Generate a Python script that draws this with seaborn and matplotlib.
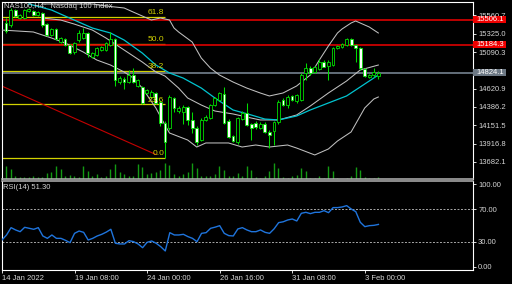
import matplotlib
matplotlib.use("Agg")
import matplotlib.pyplot as plt
import matplotlib.transforms as mtrans
from matplotlib.patches import Rectangle
import seaborn as sns

plt.rcParams['font.family'] = ['Liberation Sans', 'DejaVu Sans']

# ---------------- data ----------------
symbol_title = "NAS100,H4:  Nasdaq 100 Index"
time_labels = ["14 Jan 2022", "19 Jan 08:00", "24 Jan 00:00", "26 Jan 16:00", "31 Jan 08:00", "3 Feb 00:00"]
time_label_bars = [0, 16, 32, 48, 64, 80]

bar_idx = list(range(1, 84))
opens = [15463.2, 15437.5, 15630.0, 15527.4, 15527.4, 15610.8, 15617.2, 15565.8, 15591.5, 15450.4,
         15309.2, 15386.2, 15219.4, 15257.9, 15180.9, 15091.1, 15245.1, 15270.8, 15334.9, 15027.0,
         15052.6, 15116.8, 15116.8, 15180.9, 15257.9, 14706.2, 14744.7, 14706.2, 14796.0, 14654.9,
         14642.1, 14565.1, 14513.8, 14565.1, 14449.6, 14180.2, 14116.1, 14501.0, 14334.2, 14321.3,
         14385.5, 14218.7, 14116.1, 13962.1, 14218.7, 14244.4, 14411.1, 14475.3, 14552.3, 14205.9,
         14013.4, 13936.4, 14231.5, 14308.5, 14167.4, 14180.2, 14116.1, 14167.4, 14064.7, 14077.6,
         14193.0, 14475.3, 14411.1, 14526.6, 14462.5, 14475.3, 14821.7, 14885.9, 14838.4, 14869.2,
         14966.7, 14911.5, 14924.3, 15142.5, 15155.3, 15180.9, 15254.1, 15180.9, 15138.6, 14869.2,
         14774.2, 14796.0, 14783.2]
highs = [15527.4, 15655.7, 15642.8, 15578.7, 15642.8, 15655.7, 15630.0, 15617.2, 15604.3, 15463.2,
         15399.1, 15399.1, 15283.6, 15270.8, 15193.8, 15219.4, 15373.4, 15399.1, 15347.7, 15091.1,
         15155.3, 15168.1, 15219.4, 15347.7, 15270.8, 14783.2, 14770.4, 14860.2, 14885.9, 14744.7,
         14654.9, 14616.4, 14603.6, 14577.9, 14475.3, 14205.9, 14539.4, 14513.8, 14398.3, 14411.1,
         14398.3, 14321.3, 14141.7, 14244.4, 14282.8, 14424.0, 14513.8, 14577.9, 14645.9, 14231.5,
         14026.2, 14257.2, 14334.2, 14436.8, 14180.2, 14205.9, 14193.0, 14193.0, 14090.4, 14205.9,
         14475.3, 14501.0, 14539.4, 14539.4, 14552.3, 14821.7, 14950.0, 14911.5, 14911.5, 15001.3,
         14988.5, 14988.5, 15155.3, 15180.9, 15206.6, 15270.8, 15270.8, 15193.8, 15155.3, 14885.9,
         14808.9, 14885.9, 14847.4]
lows = [15334.9, 15411.9, 15540.2, 15514.5, 15514.5, 15604.3, 15553.0, 15553.0, 15411.9, 15296.4,
        15296.4, 15245.1, 15206.6, 15168.1, 15065.5, 15065.5, 15219.4, 15257.9, 15027.0, 15014.2,
        15039.8, 15104.0, 15104.0, 15168.1, 14654.9, 14680.6, 14616.4, 14693.4, 14693.4, 14642.1,
        14424.0, 14552.3, 14501.0, 14424.0, 14141.7, 13727.0, 14090.4, 14321.3, 14308.5, 14167.4,
        14154.5, 14051.9, 13897.9, 13949.3, 14205.9, 14231.5, 14398.3, 14462.5, 14167.4, 13987.8,
        13936.4, 13910.8, 14218.7, 14141.7, 13962.1, 14103.2, 14103.2, 14051.9, 13859.5, 13897.9,
        14167.4, 14398.3, 14372.7, 14462.5, 14436.8, 14462.5, 14731.9, 14796.0, 14821.7, 14860.2,
        14898.7, 14731.9, 14911.5, 15129.6, 15142.5, 15168.1, 15168.1, 14962.8, 14860.2, 14770.4,
        14757.6, 14770.4, 14744.7]
closes = [15360.6, 15630.0, 15553.0, 15565.8, 15630.0, 15636.4, 15565.8, 15604.3, 15437.5, 15309.2,
          15386.2, 15257.9, 15270.8, 15180.9, 15078.3, 15206.6, 15334.9, 15334.9, 15078.3, 15078.3,
          15142.5, 15155.3, 15206.6, 15257.9, 14731.9, 14757.6, 14706.2, 14796.0, 14706.2, 14731.9,
          14436.8, 14603.6, 14577.9, 14436.8, 14180.2, 13936.4, 14513.8, 14372.7, 14372.7, 14385.5,
          14218.7, 14116.1, 13936.4, 14218.7, 14257.2, 14411.1, 14501.0, 14565.1, 14180.2, 14000.6,
          13949.3, 14244.4, 14308.5, 14154.5, 14116.1, 14128.9, 14167.4, 14064.7, 14026.2, 14193.0,
          14449.6, 14411.1, 14513.8, 14475.3, 14539.4, 14796.0, 14885.9, 14821.7, 14902.5, 14966.7,
          14902.5, 14962.8, 15142.5, 15168.1, 15193.8, 15254.1, 15180.9, 15138.6, 14882.0, 14783.2,
          14796.0, 14838.4, 14824.1]
volumes = [13000, 10000, 3300, 1700, 2300, 1700, 3300, 1700, 2300, 5700,
           6700, 13000, 10000, 3300, 4300, 3300, 1700, 13000, 8000, 3300,
           5000, 1700, 3300, 10000, 15000, 6700, 5000, 3300, 3300, 15000,
           11700, 5000, 6000, 6700, 9000, 16300, 14500, 5000, 3300, 5000,
           6700, 16000, 10700, 3300, 2700, 3300, 5000, 12700, 9300, 3300,
           2700, 6000, 2700, 13300, 9300, 2500, 1500, 3000, 8000, 15700,
           11000, 2300, 1000, 3300, 4300, 11000, 7700, 1000, 1000, 3300,
           1000, 13300, 7700, 1000, 500, 1000, 3300, 12300, 9000, 2300,
           1000, 1000, 2300]
volume_axis_max = 177000

bb_upper_idx = [9, 13, 16, 20, 23, 27, 29, 31, 33, 35, 37, 38, 39, 42, 44, 46, 48, 51, 54, 57, 59, 62,
                65, 68, 70, 72, 74, 75, 77, 78, 81, 83]
bb_upper = [15707, 15707, 15707, 15707, 15681, 15656, 15604, 15553, 15502, 15527, 15502, 15399, 15348,
            15219, 15014, 14886, 14796, 14706, 14629, 14565, 14527, 14565, 14655, 14796, 14988, 15168,
            15335, 15386, 15463, 15489, 15412, 15335]
bb_mid_idx = [9, 13, 16, 20, 23, 27, 31, 34, 36, 39, 41, 44, 47, 51, 55, 57, 61, 65, 68, 72, 76, 79, 83]
bb_mid = [15527, 15502, 15450, 15373, 15271, 15117, 14963, 14835, 14783, 14629, 14501, 14411, 14334,
          14296, 14244, 14219, 14219, 14283, 14398, 14565, 14719, 14860, 14924]
bb_lower_idx = [0, 7, 11, 14, 18, 21, 24, 27, 29, 31, 34, 36, 37, 41, 43, 45, 50, 53, 56, 59, 63, 65,
                69, 72, 74, 77, 80, 82, 83]
bb_lower = [15373, 15348, 15271, 15207, 15091, 14988, 14924, 14835, 14758, 14629, 14373, 14155, 14052,
            13962, 13872, 13924, 13924, 13872, 13898, 13872, 13898, 13859, 13770, 13847, 13949, 14065,
            14373, 14488, 14514]
ma_idx = [6, 11, 15, 20, 24, 27, 31, 34, 37, 40, 44, 47, 51, 55, 58, 61, 65, 68, 72, 76, 79, 83]
ma_vals = [15707, 15630, 15527, 15399, 15335, 15245, 15078, 14924, 14822, 14757, 14629, 14501, 14347,
           14283, 14231, 14219, 14270, 14347, 14437, 14527, 14642, 14796]

fib_labels = ["0.0", "23.6", "38.2", "50.0", "61.8"]
fib_prices = [13727.0, 14417.8, 14845.1, 15190.5, 15535.9]
fib_end_bar = 36
trend_x = [0, 34]
trend_y = [14656, 13776]
red_levels = [15506.1, 15184.3]
bid_price = 14824.1

price_ticks = [15560.7, 15325.0, 15090.3, 14620.9, 14386.2, 14151.5, 13916.8, 13682.1]

rsi_idx = list(range(0, 84))
rsi_vals = [32.4, 38.5, 47.4, 44.6, 42.5, 47.8, 46.6, 45.4, 47.4, 37.3,
            34.4, 38.5, 34.4, 34.4, 32.0, 29.2, 40.5, 43.3, 41.7, 32.4,
            34.4, 37.3, 39.3, 42.0, 45.4, 28.4, 27.6, 27.6, 31.6, 30.4,
            27.6, 23.1, 29.6, 31.2, 28.4, 24.3, 19.1, 41.3, 38.5, 38.5,
            39.3, 36.5, 34.4, 30.4, 40.5, 41.3, 46.6, 48.0, 49.8, 40.5,
            37.7, 37.3, 45.8, 47.4, 44.6, 42.5, 42.5, 44.6, 41.7, 40.5,
            46.0, 53.5, 54.5, 56.7, 57.9, 55.5, 64.8, 66.0, 64.4, 66.0,
            66.0, 68.0, 65.6, 71.7, 71.7, 72.5, 74.1, 70.0, 66.8, 53.9,
            48.6, 49.8, 50.2, 51.3]
rsi_levels = [70, 30]
rsi_ticks = [100, 70, 30, 0]

# ---------------- styling ----------------
GREEN = '#00dd00'
VOL_GREEN = '#139a13'
SILVER = '#c0c0c0'
CYAN = '#00c4d0'
RED = '#dd0000'
YELLOW = '#d2d200'
SLATE = '#6c7884'
TXT = '#d4d4d4'
FS = 5.5

fig = plt.figure(figsize=(5.12, 2.84), dpi=100, facecolor='black')
ax = fig.add_axes([2/512, 105/284, 471/512, 177/284], facecolor='black')
axr = fig.add_axes([2/512, 14/284, 471/512, 89/284], facecolor='black')

XL = (0.11, 103.85)

# volume
vtrans = mtrans.blended_transform_factory(ax.transData, ax.transAxes)
ax.vlines(bar_idx, 0, [v / volume_axis_max for v in volumes], transform=vtrans,
          color=VOL_GREEN, lw=1.0, zorder=1)

# fibo
ax.hlines(fib_prices, 0, fib_end_bar, color=YELLOW, lw=0.9, zorder=2)
for lab, p in zip(fib_labels, fib_prices):
    ax.annotate(lab, (fib_end_bar, p), xytext=(-0.5, 0.6), textcoords='offset points',
                ha='right', va='bottom', color=YELLOW, fontsize=6, zorder=6)

# horizontal levels
for lv in red_levels:
    ax.axhline(lv, color=RED, lw=1.2, zorder=2)
ax.axhline(bid_price, color=SLATE, lw=1.3, zorder=2)

# trend line
sns.lineplot(x=trend_x, y=trend_y, ax=ax, color='#c40000', lw=0.8, zorder=2)

# bands and ma
sns.lineplot(x=bb_upper_idx, y=bb_upper, ax=ax, color=SILVER, lw=0.75, zorder=3)
sns.lineplot(x=bb_mid_idx, y=bb_mid, ax=ax, color=SILVER, lw=0.75, zorder=3)
sns.lineplot(x=bb_lower_idx, y=bb_lower, ax=ax, color=SILVER, lw=0.75, zorder=3)
sns.lineplot(x=ma_idx, y=ma_vals, ax=ax, color=CYAN, lw=0.9, zorder=3)

# candles
ax.vlines(bar_idx, lows, highs, color=GREEN, lw=0.75, zorder=4)
bottoms = [min(o, c) for o, c in zip(opens, closes)]
heights = [max(abs(c - o), 6) for o, c in zip(opens, closes)]
fills = ['black' if c >= o else 'white' for o, c in zip(opens, closes)]
ax.bar(bar_idx, heights, bottom=bottoms, width=0.62, color=fills, edgecolor=GREEN,
       linewidth=0.6, zorder=5)

ax.set_xlim(*XL)
ax.set_ylim(13461.7, 15732.6)
ax.set_xticks([])
ax.yaxis.tick_right()
ax.set_yticks(price_ticks)
ax.set_yticklabels([f"{t:.1f}" for t in price_ticks])
ax.tick_params(axis='y', direction='out', length=2.5, width=0.6, colors='white',
               labelcolor=TXT, labelsize=FS, pad=1.5)
ax.set_xlabel('')
ax.set_ylabel('')

# price tags
tagtr = mtrans.blended_transform_factory(ax.transAxes, ax.transData)
half_h = 3.6 * (15732.6 - 13461.7) / 177
for lv, fc in [(red_levels[0], '#ee0000'), (red_levels[1], '#ee0000'), (bid_price, SLATE)]:
    ax.add_patch(Rectangle((1.0, lv - half_h), 33 / 471, 2 * half_h, transform=tagtr,
                           facecolor=fc, edgecolor='none', clip_on=False, zorder=9))
    ax.text(1.0 + 3 / 471, lv, f"{lv:.1f}", transform=tagtr, ha='left', va='center',
            fontsize=FS, color='white', clip_on=False, zorder=10)

ax.text(2 / 471, 1 - 1.5 / 177, symbol_title, transform=ax.transAxes, ha='left', va='top',
        fontsize=FS, color=TXT, zorder=8)

for name, sp in ax.spines.items():
    sp.set_color('white')
    sp.set_linewidth(0.8)
ax.spines['bottom'].set_color('#b4b4b4')
ax.spines['bottom'].set_linewidth(1.1)

# ---------------- RSI ----------------
for lv in rsi_levels:
    axr.axhline(lv, color='#a8a8a8', lw=0.7, linestyle=(0, (2, 1.6)), zorder=1)
sns.lineplot(x=rsi_idx, y=rsi_vals, ax=axr, color='#1f74dc', lw=1.0, zorder=3)
axr.set_xlim(*XL)
axr.set_ylim(-4, 104)
axr.yaxis.tick_right()
axr.set_yticks(rsi_ticks)
axr.set_yticklabels([f"{t:.2f}" for t in rsi_ticks])
axr.set_xticks(time_label_bars)
axr.set_xticklabels(time_labels, ha='left')
axr.tick_params(axis='both', direction='out', length=2.5, width=0.6, colors='white',
                labelcolor=TXT, labelsize=FS, pad=1.2)
axr.set_xlabel('')
axr.set_ylabel('')
axr.text(1 / 471, 1 - 3 / 89, f"RSI(14) {rsi_vals[-1]:.2f}", transform=axr.transAxes,
         ha='left', va='top', fontsize=FS, color=TXT)
for name, sp in axr.spines.items():
    sp.set_color('white')
    sp.set_linewidth(0.8)
axr.spines['top'].set_color('#b4b4b4')
axr.spines['top'].set_linewidth(1.1)

fig.savefig('out.png', dpi=100, facecolor='black')
